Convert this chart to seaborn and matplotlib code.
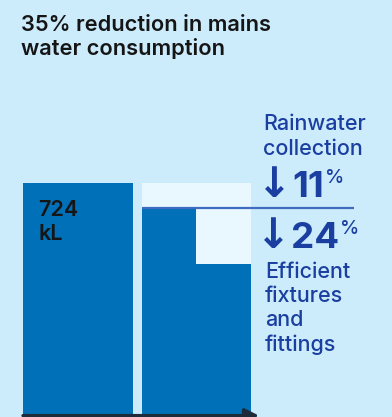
import matplotlib
matplotlib.use("Agg")
import matplotlib.pyplot as plt
import seaborn as sns
import numpy as np

# ---- data ----
categories = ["Before", "After"]
total_kl = [724, 724]
rainwater_pct = 11
fixtures_pct = 24
title_lines = ["35% reduction in mains", "water consumption"]
value_lines = ["724", "kL"]
rain_lines = ["Rainwater", "collection"]
fix_lines = ["Efficient", "fixtures", "and", "fittings"]

# ---- style ----
BG = "#CCECFB"
DARK = "#0070B8"
LIGHT = "#E8F8FE"
BLUE_TXT = "#1B3FA0"
LINE_C = "#3F6CC0"
BLACK = "#151515"
FONT = ["Inter", "DejaVu Sans"]

sns.set_theme(style="white")
plt.rcParams["font.family"] = FONT

W, H = 392, 417
fig = plt.figure(figsize=(W / 100, H / 100), dpi=100, facecolor=BG)
ax = fig.add_axes([0, 0, 1, 1])
ax.set_facecolor(BG)

bw = 0.922
sns.barplot(x=categories, y=total_kl, hue=categories,
            palette=[DARK, LIGHT], width=bw, ax=ax, legend=False,
            saturation=1, linewidth=0)

after_total = total_kl[1]
after_rain = after_total * (1 - rainwater_pct / 100)
after_all = after_total * (1 - (rainwater_pct + fixtures_pct) / 100)
ax.bar(1 - bw / 4, after_rain, width=bw / 2, color=DARK, linewidth=0)
ax.bar(1, after_all, width=bw, color=DARK, linewidth=0)

s = 724 / 232.5
ax.set_ylim(-(H - 415) * s, 415 * s)
px = 118.5
ax.set_xlim(-78 / px, (W - 78) / px)
ax.axis("off")

ax.plot([1 - bw / 2, (354 - 78) / px], [after_rain, after_rain],
        color=LINE_C, lw=1.6, solid_capstyle="butt")

ax.annotate("", xy=((259 - 78) / px, -0.6 * s), xytext=((23 - 78) / px, -0.6 * s),
            arrowprops=dict(arrowstyle="-|>,head_length=0.7,head_width=0.35",
                            color="#1E2B3A", lw=2.4, shrinkA=0, shrinkB=0))


def t(x, y, s_, size, color, weight="normal", va="baseline", family=FONT):
    return fig.text(x / W, 1 - y / H, s_, fontsize=size, color=color,
                    fontweight=weight, va=va, ha="left", family=family)


t(21, 31, title_lines[0], 15.7, BLACK, "semibold")
t(21, 55, title_lines[1], 15.7, BLACK, "semibold")

t(38.5, 215.7, value_lines[0], 15.5, BLACK, "semibold")
t(38.5, 240, value_lines[1], 15.5, BLACK, "semibold")

t(263, 129.5, rain_lines[0], 15.5, BLUE_TXT, "medium")
t(263, 155, rain_lines[1], 15.5, BLUE_TXT, "medium")

fig.canvas.draw()
r = fig.canvas.get_renderer()
for y, x0, pct in [(196.7, 257, rainwater_pct), (247.7, 256, fixtures_pct)]:
    arr = t(x0, y + 0.5, "\u2193", 30, BLUE_TXT, "bold", family=["DejaVu Sans"])
    ab = arr.get_window_extent(renderer=r)
    num = fig.text(ab.x1 / W + 0.5 / W, 1 - y / H, f"{pct}", fontsize=26.5,
                   color=BLUE_TXT, fontweight="bold", va="baseline", ha="left",
                   family=FONT)
    nb = num.get_window_extent(renderer=r)
    fig.text(nb.x1 / W + 0.5 / W, 1 - (y - 27.5) / H, "%", fontsize=14,
             color=BLUE_TXT, va="top", ha="left", family=FONT, fontweight="medium")

for i, line in enumerate(fix_lines):
    t(265, 277.7 + i * 24.4, line, 15.5, BLUE_TXT, "medium")

fig.savefig("out.png", dpi=100, facecolor=BG)
